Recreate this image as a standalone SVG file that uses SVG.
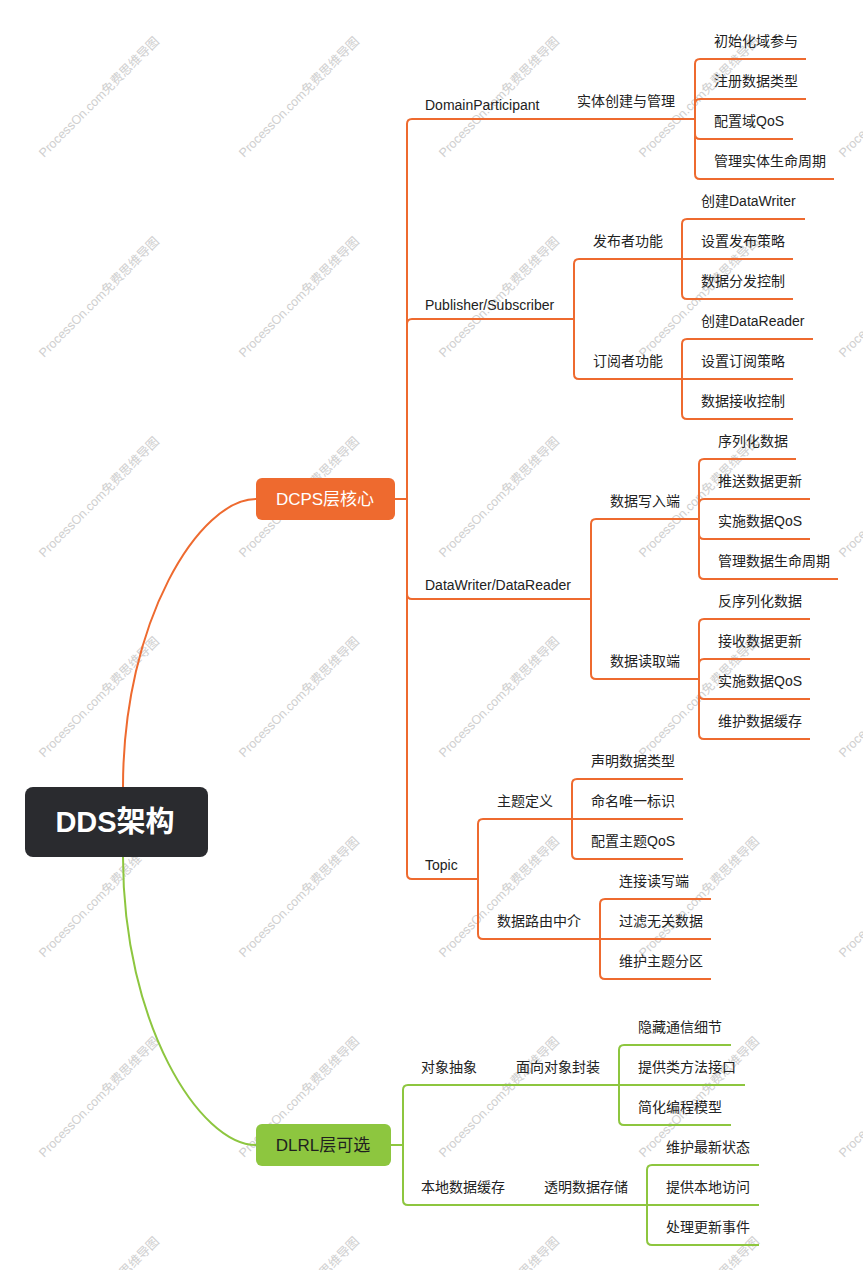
<svg xmlns="http://www.w3.org/2000/svg" width="863" height="1270" viewBox="0 0 863 1270">
<style>
.t{font-family:"Liberation Sans","Noto Sans CJK SC",sans-serif;font-size:14px;fill:#222}
.wm{font-family:"Liberation Sans","Noto Sans CJK SC",sans-serif;font-size:12.5px;fill:#cfcfcf}
.o{fill:none;stroke:#ee6a2f;stroke-width:2}
.g{fill:none;stroke:#8dc63f;stroke-width:2}
.n1{font-family:"Liberation Sans","Noto Sans CJK SC",sans-serif;font-size:17px;text-anchor:middle}
</style>
<rect width="863" height="1270" fill="#fff"/>
<g id="watermarks">
<text class="wm" transform="translate(44,158) rotate(-45)">ProcessOn.com免费思维导图</text>
<text class="wm" transform="translate(244,158) rotate(-45)">ProcessOn.com免费思维导图</text>
<text class="wm" transform="translate(444,158) rotate(-45)">ProcessOn.com免费思维导图</text>
<text class="wm" transform="translate(644,158) rotate(-45)">ProcessOn.com免费思维导图</text>
<text class="wm" transform="translate(844,158) rotate(-45)">ProcessOn.com免费思维导图</text>
<text class="wm" transform="translate(44,358) rotate(-45)">ProcessOn.com免费思维导图</text>
<text class="wm" transform="translate(244,358) rotate(-45)">ProcessOn.com免费思维导图</text>
<text class="wm" transform="translate(444,358) rotate(-45)">ProcessOn.com免费思维导图</text>
<text class="wm" transform="translate(644,358) rotate(-45)">ProcessOn.com免费思维导图</text>
<text class="wm" transform="translate(844,358) rotate(-45)">ProcessOn.com免费思维导图</text>
<text class="wm" transform="translate(44,558) rotate(-45)">ProcessOn.com免费思维导图</text>
<text class="wm" transform="translate(244,558) rotate(-45)">ProcessOn.com免费思维导图</text>
<text class="wm" transform="translate(444,558) rotate(-45)">ProcessOn.com免费思维导图</text>
<text class="wm" transform="translate(644,558) rotate(-45)">ProcessOn.com免费思维导图</text>
<text class="wm" transform="translate(844,558) rotate(-45)">ProcessOn.com免费思维导图</text>
<text class="wm" transform="translate(44,758) rotate(-45)">ProcessOn.com免费思维导图</text>
<text class="wm" transform="translate(244,758) rotate(-45)">ProcessOn.com免费思维导图</text>
<text class="wm" transform="translate(444,758) rotate(-45)">ProcessOn.com免费思维导图</text>
<text class="wm" transform="translate(644,758) rotate(-45)">ProcessOn.com免费思维导图</text>
<text class="wm" transform="translate(844,758) rotate(-45)">ProcessOn.com免费思维导图</text>
<text class="wm" transform="translate(44,958) rotate(-45)">ProcessOn.com免费思维导图</text>
<text class="wm" transform="translate(244,958) rotate(-45)">ProcessOn.com免费思维导图</text>
<text class="wm" transform="translate(444,958) rotate(-45)">ProcessOn.com免费思维导图</text>
<text class="wm" transform="translate(644,958) rotate(-45)">ProcessOn.com免费思维导图</text>
<text class="wm" transform="translate(844,958) rotate(-45)">ProcessOn.com免费思维导图</text>
<text class="wm" transform="translate(44,1158) rotate(-45)">ProcessOn.com免费思维导图</text>
<text class="wm" transform="translate(244,1158) rotate(-45)">ProcessOn.com免费思维导图</text>
<text class="wm" transform="translate(444,1158) rotate(-45)">ProcessOn.com免费思维导图</text>
<text class="wm" transform="translate(644,1158) rotate(-45)">ProcessOn.com免费思维导图</text>
<text class="wm" transform="translate(844,1158) rotate(-45)">ProcessOn.com免费思维导图</text>
<text class="wm" transform="translate(44,1358) rotate(-45)">ProcessOn.com免费思维导图</text>
<text class="wm" transform="translate(244,1358) rotate(-45)">ProcessOn.com免费思维导图</text>
<text class="wm" transform="translate(444,1358) rotate(-45)">ProcessOn.com免费思维导图</text>
<text class="wm" transform="translate(644,1358) rotate(-45)">ProcessOn.com免费思维导图</text>
<text class="wm" transform="translate(844,1358) rotate(-45)">ProcessOn.com免费思维导图</text>
</g>
<g id="connectors">
<path class="o" d="M123,787 C123,620 200,499 256,499"/>
<path class="g" d="M123,857 C123,1024 200,1145 256,1145"/>
<path class="o" d="M395,499 L407,499"/>
<path class="o" d="M407,499 L407,124 Q407,119 412,119 L695,119"/>
<path class="o" d="M407,499 L407,324 Q407,319 412,319 L574,319"/>
<path class="o" d="M407,499 L407,594 Q407,599 412,599 L591,599"/>
<path class="o" d="M407,499 L407,874 Q407,879 412,879 L478,879"/>
<path class="o" d="M695,119 L695,64 Q695,59 700,59 L806,59"/>
<path class="o" d="M695,119 L695,104 Q695,99 700,99 L806,99"/>
<path class="o" d="M695,119 L695,134 Q695,139 700,139 L793,139"/>
<path class="o" d="M695,119 L695,174 Q695,179 700,179 L834,179"/>
<path class="o" d="M574,319 L574,264 Q574,259 579,259 L682,259"/>
<path class="o" d="M574,319 L574,374 Q574,379 579,379 L682,379"/>
<path class="o" d="M682,259 L682,224 Q682,219 687,219 L805,219"/>
<path class="o" d="M682,259 L793,259"/>
<path class="o" d="M682,259 L682,294 Q682,299 687,299 L793,299"/>
<path class="o" d="M682,379 L682,344 Q682,339 687,339 L813,339"/>
<path class="o" d="M682,379 L793,379"/>
<path class="o" d="M682,379 L682,414 Q682,419 687,419 L793,419"/>
<path class="o" d="M591,599 L591,524 Q591,519 596,519 L699,519"/>
<path class="o" d="M591,599 L591,674 Q591,679 596,679 L699,679"/>
<path class="o" d="M699,519 L699,464 Q699,459 704,459 L796,459"/>
<path class="o" d="M699,519 L699,504 Q699,499 704,499 L810,499"/>
<path class="o" d="M699,519 L699,534 Q699,539 704,539 L810,539"/>
<path class="o" d="M699,519 L699,574 Q699,579 704,579 L838,579"/>
<path class="o" d="M699,679 L699,624 Q699,619 704,619 L810,619"/>
<path class="o" d="M699,679 L699,664 Q699,659 704,659 L810,659"/>
<path class="o" d="M699,679 L699,694 Q699,699 704,699 L810,699"/>
<path class="o" d="M699,679 L699,734 Q699,739 704,739 L810,739"/>
<path class="o" d="M478,879 L478,824 Q478,819 483,819 L572,819"/>
<path class="o" d="M478,879 L478,934 Q478,939 483,939 L600,939"/>
<path class="o" d="M572,819 L572,784 Q572,779 577,779 L683,779"/>
<path class="o" d="M572,819 L683,819"/>
<path class="o" d="M572,819 L572,854 Q572,859 577,859 L683,859"/>
<path class="o" d="M600,939 L600,904 Q600,899 605,899 L711,899"/>
<path class="o" d="M600,939 L711,939"/>
<path class="o" d="M600,939 L600,974 Q600,979 605,979 L711,979"/>
<path class="g" d="M391,1145 L403,1145"/>
<path class="g" d="M403,1145 L403,1090 Q403,1085 408,1085 L619,1085"/>
<path class="g" d="M403,1145 L403,1200 Q403,1205 408,1205 L647,1205"/>
<path class="g" d="M619,1085 L619,1050 Q619,1045 624,1045 L731,1045"/>
<path class="g" d="M619,1085 L745,1085"/>
<path class="g" d="M619,1085 L619,1120 Q619,1125 624,1125 L731,1125"/>
<path class="g" d="M647,1205 L647,1170 Q647,1165 652,1165 L759,1165"/>
<path class="g" d="M647,1205 L759,1205"/>
<path class="g" d="M647,1205 L647,1240 Q647,1245 652,1245 L759,1245"/>
</g>
<g id="root">
<rect x="25" y="787" width="183" height="70" rx="8" fill="#2a2b2f"/>
<text x="115" y="832" text-anchor="middle" style="font-family:'Liberation Sans','Noto Sans CJK SC',sans-serif;font-size:29px;font-weight:bold;fill:#fff">DDS架构</text>
</g>
<g id="dcps">
<rect x="256" y="478" width="139" height="42" rx="6" fill="#ee6a2f"/>
<text class="n1" x="325" y="505" fill="#fff">DCPS层核心</text>
</g>
<g id="dlrl">
<rect x="256" y="1124" width="135" height="42" rx="6" fill="#8dc63f"/>
<text class="n1" x="323" y="1151" fill="#1f1f1f">DLRL层可选</text>
</g>
<g id="n-dp"><text class="t" x="425" y="110">DomainParticipant</text></g>
<g id="n-dp1"><text class="t" x="577" y="106">实体创建与管理</text></g>
<g id="n-dp1a"><text class="t" x="714" y="46">初始化域参与</text></g>
<g id="n-dp1b"><text class="t" x="714" y="86">注册数据类型</text></g>
<g id="n-dp1c"><text class="t" x="714" y="126">配置域QoS</text></g>
<g id="n-dp1d"><text class="t" x="714" y="166">管理实体生命周期</text></g>
<g id="n-ps"><text class="t" x="425" y="310">Publisher/Subscriber</text></g>
<g id="n-pub"><text class="t" x="593" y="246">发布者功能</text></g>
<g id="n-pub1"><text class="t" x="701" y="206">创建DataWriter</text></g>
<g id="n-pub2"><text class="t" x="701" y="246">设置发布策略</text></g>
<g id="n-pub3"><text class="t" x="701" y="286">数据分发控制</text></g>
<g id="n-sub"><text class="t" x="593" y="366">订阅者功能</text></g>
<g id="n-sub1"><text class="t" x="701" y="326">创建DataReader</text></g>
<g id="n-sub2"><text class="t" x="701" y="366">设置订阅策略</text></g>
<g id="n-sub3"><text class="t" x="701" y="406">数据接收控制</text></g>
<g id="n-dw"><text class="t" x="425" y="590">DataWriter/DataReader</text></g>
<g id="n-w"><text class="t" x="610" y="506">数据写入端</text></g>
<g id="n-w1"><text class="t" x="718" y="446">序列化数据</text></g>
<g id="n-w2"><text class="t" x="718" y="486">推送数据更新</text></g>
<g id="n-w3"><text class="t" x="718" y="526">实施数据QoS</text></g>
<g id="n-w4"><text class="t" x="718" y="566">管理数据生命周期</text></g>
<g id="n-r"><text class="t" x="610" y="666">数据读取端</text></g>
<g id="n-r1"><text class="t" x="718" y="606">反序列化数据</text></g>
<g id="n-r2"><text class="t" x="718" y="646">接收数据更新</text></g>
<g id="n-r3"><text class="t" x="718" y="686">实施数据QoS</text></g>
<g id="n-r4"><text class="t" x="718" y="726">维护数据缓存</text></g>
<g id="n-topic"><text class="t" x="425" y="870">Topic</text></g>
<g id="n-td"><text class="t" x="497" y="806">主题定义</text></g>
<g id="n-td1"><text class="t" x="591" y="766">声明数据类型</text></g>
<g id="n-td2"><text class="t" x="591" y="806">命名唯一标识</text></g>
<g id="n-td3"><text class="t" x="591" y="846">配置主题QoS</text></g>
<g id="n-tr"><text class="t" x="497" y="926">数据路由中介</text></g>
<g id="n-tr1"><text class="t" x="619" y="886">连接读写端</text></g>
<g id="n-tr2"><text class="t" x="619" y="926">过滤无关数据</text></g>
<g id="n-tr3"><text class="t" x="619" y="966">维护主题分区</text></g>
<g id="n-oa"><text class="t" x="421" y="1072">对象抽象</text></g>
<g id="n-oa1"><text class="t" x="516" y="1072">面向对象封装</text></g>
<g id="n-oa1a"><text class="t" x="638" y="1032">隐藏通信细节</text></g>
<g id="n-oa1b"><text class="t" x="638" y="1072">提供类方法接口</text></g>
<g id="n-oa1c"><text class="t" x="638" y="1112">简化编程模型</text></g>
<g id="n-lc"><text class="t" x="421" y="1192">本地数据缓存</text></g>
<g id="n-lc1"><text class="t" x="544" y="1192">透明数据存储</text></g>
<g id="n-lc1a"><text class="t" x="666" y="1152">维护最新状态</text></g>
<g id="n-lc1b"><text class="t" x="666" y="1192">提供本地访问</text></g>
<g id="n-lc1c"><text class="t" x="666" y="1232">处理更新事件</text></g>
</svg>
